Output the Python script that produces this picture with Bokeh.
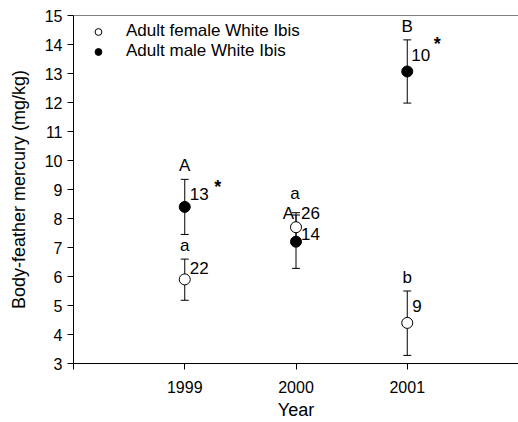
from bokeh.plotting import figure
from bokeh.models import (ColumnDataSource, Whisker, TeeHead, Legend, LegendItem,
                          FixedTicker, Span, Range1d)
from bokeh.core.properties import value
from bokeh.embed import file_html
from bokeh.resources import INLINE

# ---- data ----
years = [1999, 2000, 2001]
female_mean = [5.9, 7.7, 4.4]
female_lo = [5.18, 7.2, 3.28]
female_hi = [6.6, 8.2, 5.5]
male_mean = [8.4, 7.2, 13.07]
male_lo = [7.45, 6.28, 11.98]
male_hi = [9.35, 8.12, 14.16]
female_n = ["22", "26", "9"]
male_n = ["13", "14", "10"]
female_group = ["a", "a", "b"]
male_group = ["A", "A", "B"]
male_sig = ["*", "", "*"]
x_ticks = [1998, 1999, 2000, 2001, 2002]
y_ticks = list(range(3, 16))

FONT = "Liberation Sans"

p = figure(frame_width=445, frame_height=348, output_backend="svg", toolbar_location=None,
           x_range=Range1d(1998, 2002), y_range=Range1d(3, 15),
           min_border_left=73, min_border_right=0, min_border_top=15, min_border_bottom=59)
p.outline_line_color = None
p.grid.grid_line_color = None
p.background_fill_color = "white"
p.border_fill_color = "white"

# top border line
p.add_layout(Span(location=15, dimension="width", line_color="black", line_width=1))

for ax in (p.xaxis[0], p.yaxis[0]):
    ax.axis_line_color = "black"
    ax.major_tick_line_color = "black"
    ax.major_tick_out = 6
    ax.major_tick_in = 0
    ax.minor_tick_line_color = None
    ax.major_label_text_font = FONT
    ax.major_label_text_font_size = "16px"
    ax.major_label_text_color = "black"
    ax.axis_label_text_font = FONT
    ax.axis_label_text_font_style = "normal"
    ax.axis_label_text_color = "black"

p.xaxis.ticker = FixedTicker(ticks=x_ticks)
p.xaxis.major_label_overrides = {1998: "", 2002: ""}
p.xaxis.axis_label = "Year"
p.xaxis.axis_label_text_font_size = "18px"
p.xaxis.major_label_standoff = 11
p.xaxis.axis_label_standoff = 4

p.yaxis.ticker = FixedTicker(ticks=y_ticks)
p.yaxis.axis_label = "Body-feather mercury (mg/kg)"
p.yaxis.axis_label_text_font_size = "18px"
p.yaxis.major_label_standoff = 5
p.yaxis.axis_label_standoff = 13

fsrc = ColumnDataSource(dict(x=years, y=female_mean, lo=female_lo, hi=female_hi))
msrc = ColumnDataSource(dict(x=years, y=male_mean, lo=male_lo, hi=male_hi))

for src in (fsrc, msrc):
    w = Whisker(source=src, base="x", lower="lo", upper="hi", dimension="height",
                line_color="black", line_width=1,
                upper_head=TeeHead(size=8, line_color="black", line_width=1),
                lower_head=TeeHead(size=8, line_color="black", line_width=1))
    p.add_layout(w)

r_f = p.scatter("x", "y", source=fsrc, size=11, marker="circle",
                fill_color="white", line_color="black", line_width=1)
r_m = p.scatter("x", "y", source=msrc, size=11, marker="circle",
                fill_color="black", line_color="black", line_width=1)

# ---- annotations ----
TXT = dict(text_font=value(FONT), text_font_size="17px", text_color="black")
# group letters (female)
p.text(x=years, y=female_hi, text=female_group, x_offset=[0, -1, 0], y_offset=[-4, -10, -4],
       text_align="center", text_baseline="bottom", **TXT)
# group letters (male)
p.text(x=years, y=male_hi, text=male_group, x_offset=[0, -2, 0], y_offset=[-4, -2, -4],
       text_align=["center", "right", "center"], text_baseline=["bottom", "middle", "bottom"],
       **TXT)
# sample sizes
p.text(x=years, y=female_mean, text=female_n, x_offset=[5, 5, 5], y_offset=[-11, -14, -17],
       text_align="left", text_baseline="middle", **TXT)
p.text(x=years, y=male_mean, text=male_n, x_offset=[5, 5, 4], y_offset=[-13, -8, -16],
       text_align="left", text_baseline="middle", **TXT)
# significance stars
p.text(x=years, y=male_mean, text=male_sig, x_offset=[33, 0, 30], y_offset=[-20, 0, -27],
       text_align="center", text_baseline="middle", text_font=value(FONT),
       text_font_size="18px", text_font_style="bold", text_color="black")

legend = Legend(items=[LegendItem(label="Adult female White Ibis", renderers=[r_f]),
                       LegendItem(label="Adult male White Ibis", renderers=[r_m])],
                location="top_left")
legend.margin = 6
legend.padding = 6
legend.glyph_width = 38
legend.glyph_height = 17
legend.spacing = 0
legend.label_standoff = 9
legend.label_height = 17
legend.label_text_font = FONT
legend.label_text_font_size = "17px"
legend.label_text_color = "black"
legend.border_line_color = None
legend.background_fill_alpha = 0
p.add_layout(legend)

open("out.html", "w").write(file_html(p, INLINE))
